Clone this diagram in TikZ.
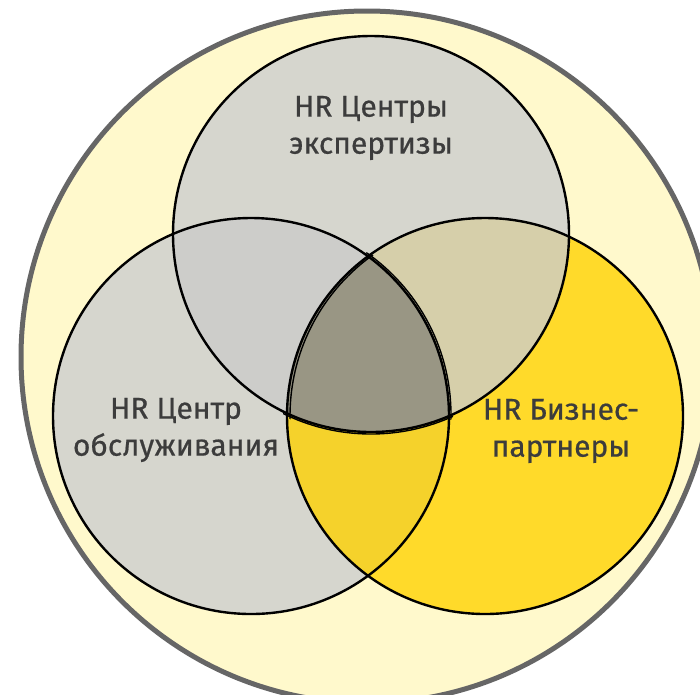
\documentclass[tikz,border=0pt]{standalone}
\usepackage{fontspec}
\setmainfont{Fira Sans}[FakeBold=0.6]
\begin{document}
\begin{tikzpicture}[x=1pt,y=-1pt]
\definecolor{outerfill}{HTML}{FFF9CC}
\definecolor{outerline}{HTML}{666666}
\definecolor{greyfill}{HTML}{D6D6CE}
\definecolor{greytwo}{HTML}{CDCDCA}
\definecolor{khaki}{HTML}{D6CFAA}
\definecolor{yellowfill}{HTML}{FFDA2A}
\definecolor{yellowtwo}{HTML}{F5D22B}
\definecolor{core}{HTML}{999684}
\definecolor{labelgrey}{HTML}{3C3C3C}
\tikzset{
  ring/.style={draw=black, line width=2.4pt},
  echo/.style={draw=black, line width=1.4pt},
  label/.style={text=labelgrey, font=\fontsize{30}{37}\selectfont, align=center, inner sep=0pt}
}
\useasboundingbox (0,0) rectangle (700,694);
\clip (0,0) rectangle (700,694);

% outer field
\draw[fill=outerfill, draw=outerline, line width=5pt] (367,357) circle[radius=346];

% centres of the three sets
\coordinate (T) at (371,234);
\coordinate (L) at (251,416);
\coordinate (R) at (485,416);
\def\rad{198}

% single-set fills
\fill[greyfill] (T) circle[radius=\rad];
\fill[greyfill] (L) circle[radius=\rad];
\fill[yellowfill] (R) circle[radius=\rad];

% pairwise overlaps
\begin{scope}
  \clip (T) circle[radius=\rad];
  \fill[greytwo] (L) circle[radius=\rad];
  \fill[khaki] (R) circle[radius=\rad];
\end{scope}
\begin{scope}
  \clip (L) circle[radius=\rad];
  \fill[yellowtwo] (R) circle[radius=\rad];
\end{scope}

% triple overlap
\begin{scope}
  \clip (T) circle[radius=\rad];
  \clip (L) circle[radius=\rad];
  \fill[core] (R) circle[radius=\rad];
\end{scope}

% outlines
\draw[ring] (T) circle[radius=\rad];
\draw[ring] (L) circle[radius=\rad];
\draw[ring] (R) circle[radius=\rad];

% slightly offset second outline around the common core
\begin{scope}
  \clip (T) circle[radius=\rad+4];
  \clip (L) circle[radius=\rad+4];
  \clip (R) circle[radius=\rad+4];
  \draw[echo] ([shift={(3,0)}]R) circle[radius=\rad];
  \draw[echo] ([shift={(2,-1)}]L) circle[radius=\rad];
  \draw[echo] ([shift={(0,2)}]T) circle[radius=\rad];
\end{scope}

% labels
\node[label] (top) at (371,128) {HR Центры\\экспертизы};
\node[label] (left) at (176,430) {HR Центр\\обслуживания};
\node[label] (right) at (561,431) {HR Бизнес-\\партнеры};
\end{tikzpicture}
\end{document}
